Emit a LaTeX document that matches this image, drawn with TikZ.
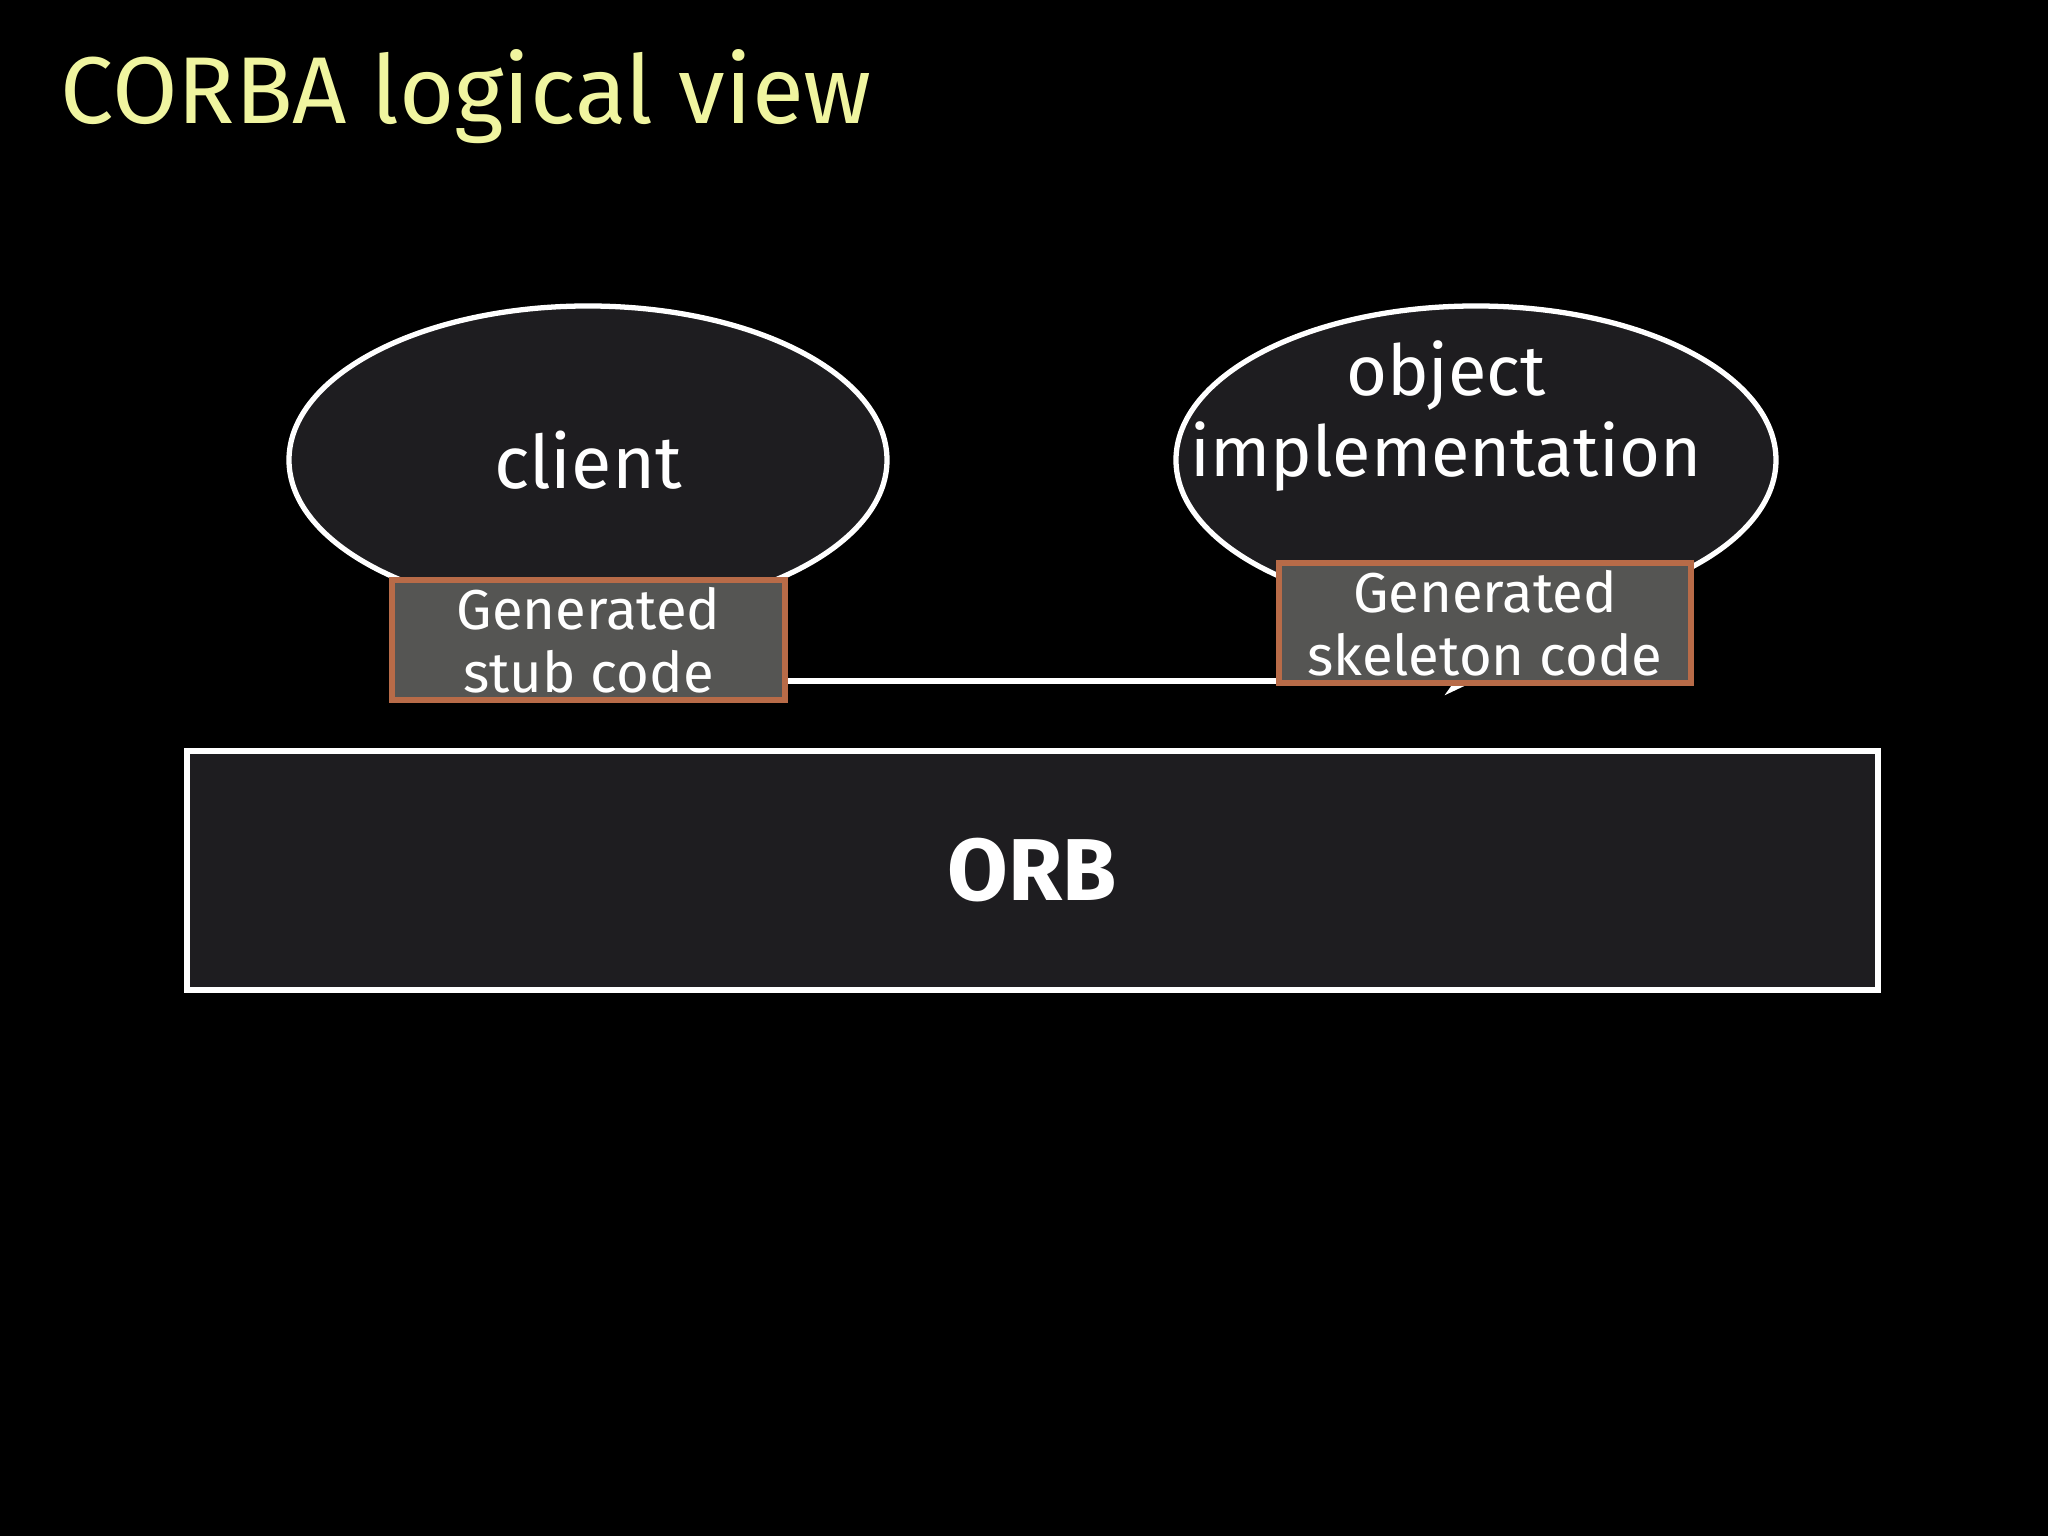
\documentclass[tikz,border=0pt]{standalone}
\usepackage{fontspec}
\setmainfont{Fira Sans}
\usepackage{tikz}
\usetikzlibrary{shapes.geometric, arrows.meta, positioning, calc}
\definecolor{slidebg}{RGB}{0,0,0}
\definecolor{bubblefill}{RGB}{30,29,32}
\definecolor{codefill}{RGB}{85,85,83}
\definecolor{codeedge}{RGB}{184,107,72}
\definecolor{titleyellow}{RGB}{240,245,160}

\begin{document}
\begin{tikzpicture}[
  bubble/.style={ellipse, draw=white, line width=1.5pt, fill=bubblefill,
                 inner sep=0pt, text=white, font=\fontsize{21}{25}\selectfont},
  codebox/.style={draw=codeedge, line width=1.8pt, fill=codefill, inner sep=0pt,
                  minimum height=1.2cm, align=center, text=white,
                  font=\fontsize{16}{18}\selectfont},
  orbbox/.style={draw=white, line width=1.5pt, fill=bubblefill, inner sep=0pt,
                 text=white, font=\fontsize{25}{30}\selectfont\bfseries},
  arr/.style={-{Stealth[length=0.3cm, width=0.28cm]}, draw=white, line width=1.5pt},
]
\useasboundingbox[fill=slidebg] (0,0) rectangle (20.48,15.36);

%% --- Title ---
\node[anchor=base west, inner sep=0pt, text=titleyellow,
      font=\fontsize{27}{32}\selectfont] (title) at (0.6,14.12) {CORBA logical view};

%% --- Client and object implementation ---
\node[bubble, minimum width=5.98cm, minimum height=3.08cm] (client) at (5.88,10.76) {client};
\node[bubble, minimum width=6.0cm, minimum height=3.08cm,
      label={[xshift=-0.3cm, yshift=0.44cm, align=center, text=white,
              font=\fontsize{20}{23}\selectfont]center:object\\implementation}]
      (objimpl) at (14.76,10.76) {};

%% --- Connector between stub and skeleton ---
\coordinate (tipend) at (14.75,8.55);
\node[codebox, minimum width=3.93cm] (stub) at (5.885,8.96) {Generated\\stub code};
\draw[arr] (stub.east |- tipend) -- (tipend);

%% --- Generated code boxes ---
\node[codebox, minimum width=4.12cm] (skel) at (14.85,9.13) {Generated\\skeleton code};

%% --- ORB ---
\node[orbbox, minimum width=16.91cm, minimum height=2.39cm] (orb) at (10.325,6.655) {ORB};

\end{tikzpicture}
\end{document}
